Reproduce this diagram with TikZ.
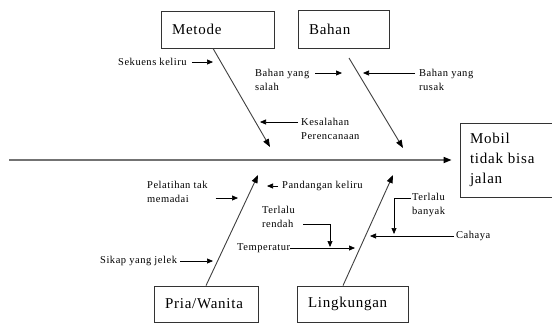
\documentclass[tikz,border=0pt]{standalone}
\usepackage{fontspec}
\usepackage{tikz}
\setmainfont{Liberation Serif}[LetterSpace=5]
\usetikzlibrary{arrows.meta}
\tikzset{
    causebox/.style={draw=black!80, thick, rectangle, align=left, inner xsep=11pt, inner ysep=0pt, font=\fontsize{15}{20}\selectfont},
    lbl/.style={inner sep=0pt, anchor=west, align=left, font=\fontsize{10.5}{14.5}\selectfont},
    spine/.style={draw=black!55, line width=1.6pt, -{Triangle[length=8pt,width=6pt,color=black]}},
    bone/.style={draw=black!75, line width=0.9pt, -{Triangle[length=8pt,width=6pt,color=black]}},
    smallarrow/.style={draw=black, line width=0.7pt, -{Triangle[length=6pt,width=5pt]}}
}
\newcommand{\drawBone}[2]{
    \draw[bone] (#1) -- (#2)
}
\begin{document}
\begin{tikzpicture}[x=1pt,y=-1pt]
            \clip (0,0) rectangle (552,322);
            \fill[white] (0,0) rectangle (552,322);

            % boxes
            \node[causebox, text width=91pt, minimum height=37pt] (metode) at (217.5,29.5) {Metode};
            \node[causebox, text width=69pt, minimum height=38pt] (bahan) at (343.5,29) {Bahan};
            \node[causebox, text width=82pt, minimum height=36pt] (pria) at (206,304) {Pria/Wanita};
            \node[causebox, text width=89pt, minimum height=36pt] (lingkungan) at (352.5,304) {Lingkungan};
            \node[causebox, text width=76pt, inner xsep=10pt, minimum height=74pt] (mobil) at (508,160) {Mobil\\tidak bisa\\jalan};

            % spine and bones
            \coordinate (spinestart) at (9,160);
            \draw[spine] (spinestart) -- ([xshift=-8pt]mobil.west);

            \coordinate (metodeT) at (270,147);
            \coordinate (bahanS) at (349,58);
            \coordinate (bahanT) at (403,148);
            \coordinate (priaT) at (258,175);
            \coordinate (lingkunganT) at (393,175);
            \drawBone{[xshift=-4.5pt]metode.south}{metodeT};
            \drawBone{bahanS}{bahanT};
            \drawBone{pria.north}{priaT};
            \drawBone{[xshift=-9.5pt]lingkungan.north}{lingkunganT};

            % labels
            \node[lbl] (sekuens) at (118,62) {Sekuens keliru};
            \node[lbl] (salah) at (255,80) {Bahan yang\\salah};
            \node[lbl] (rusak) at (419,80) {Bahan yang\\rusak};
            \node[lbl] (kesalahan) at (301,129) {Kesalahan\\Perencanaan};
            \node[lbl] (pelatihan) at (147,192) {Pelatihan tak\\memadai};
            \node[lbl] (pandangan) at (282,186) {Pandangan keliru};
            \node[lbl] (sikap) at (100,261) {Sikap yang jelek};
            \node[lbl] (rendah) at (262,217) {Terlalu\\rendah};
            \node[lbl] (temperatur) at (237,248) {Temperatur};
            \node[lbl] (cahaya) at (456,236) {Cahaya};
            \node[lbl] (banyak) at (412,205) {Terlalu\\banyak};

            % small arrows
            \coordinate (sekuensT) at (213,62);
            \coordinate (salahT) at (342,73);
            \coordinate (rusakT) at (363,73);
            \coordinate (kesalahanT) at (260,122);
            \coordinate (pelatihanT) at (238,198);
            \coordinate (pandanganT) at (267,186);
            \coordinate (sikapT) at (213,261);
            \coordinate (rendahT) at (330,247);
            \coordinate (temperaturT) at (355,248);
            \coordinate (cahayaT) at (370,236);
            \coordinate (banyakT) at (394,234);

            \draw[smallarrow] ([xshift=5pt]sekuens.east) -- (sekuensT);
            \draw[smallarrow] (salah.east |- salahT) ++(6,0) -- (salahT);
            \draw[smallarrow] (rusak.west |- rusakT) ++(-4,0) -- (rusakT);
            \draw[smallarrow] (kesalahan.west |- kesalahanT) ++(-3,0) -- (kesalahanT);
            \draw[smallarrow] (pelatihan.east |- pelatihanT) ++(8,0) -- (pelatihanT);
            \draw[smallarrow] ([xshift=-4pt]pandangan.west) -- (pandanganT);
            \draw[smallarrow] ([xshift=3pt]sikap.east) -- (sikapT);
            \draw[smallarrow] ([shift={(8,7.5)}]rendah.east) -| (rendahT);
            \draw[smallarrow] (temperatur.east) -- (temperaturT);
            \draw[smallarrow] ([xshift=-2pt]cahaya.west) -- (cahayaT);
            \draw[smallarrow] ([shift={(-1,-7)}]banyak.west) -| (banyakT);

        \end{tikzpicture}
\end{document}
